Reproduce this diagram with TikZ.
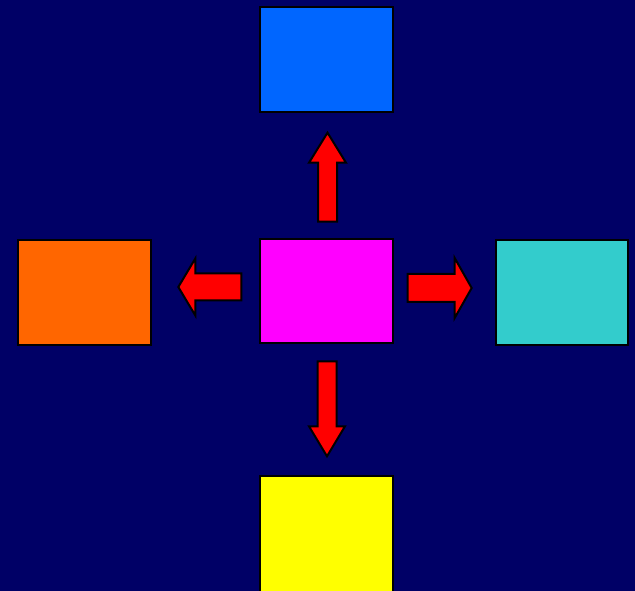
\documentclass[tikz,border=0pt]{standalone}
\definecolor{bgnavy}{HTML}{000066}
\definecolor{hubmagenta}{HTML}{FF00FF}
\definecolor{topblue}{HTML}{0066FF}
\definecolor{leftorange}{HTML}{FF6600}
\definecolor{rightcyan}{HTML}{33CCCC}
\definecolor{bottomyellow}{HTML}{FFFF00}
\definecolor{arrowred}{HTML}{FF0000}
\tikzset{
  box/.style={draw=black, line width=0.04cm, minimum width=2.66cm, minimum height=2.1cm, inner sep=0pt},
  arrowfill/.style={fill=arrowred, draw=black, line width=0.04cm, line join=miter},
  % length, shaft width, head width, head length
  pics/blockarrow/.style n args={4}{code={
    \draw[arrowfill] (0,-#2/2) -- ({#1-#4},-#2/2) -- ({#1-#4},-#3/2) -- (#1,0)
      -- ({#1-#4},#3/2) -- ({#1-#4},#2/2) -- (0,#2/2) -- cycle;
  }}
}
\begin{document}
\begin{tikzpicture}[x=0.02cm, y=0.02cm]
  % Background
  \useasboundingbox (0,0) rectangle (635,591);
  \clip (0,0) rectangle (635,591);
  \fill[bgnavy] (0,0) rectangle (635,591);

  % Boxes
  \node[box, fill=hubmagenta, minimum height=2.08cm] (hub) at (326.8,299.7) {};
  \node[box, fill=topblue] (top) at (326.5,531.5) {};
  \node[box, fill=leftorange] (left) at (84.3,298.7) {};
  \node[box, fill=rightcyan] (right) at (562,298.7) {};
  \node[box, fill=bottomyellow, minimum height=2.7cm] (bottom) at (326.5,47.5) {};

  % Arrows out of the hub
  \path (hub.north) ++(0.7,16.6) pic[rotate=90] {blockarrow={89}{19}{37}{30}};
  \path (hub.south) ++(0.2,-17) pic[rotate=-90] {blockarrow={95}{19}{36}{30}};
  \path (hub.west) ++(-18,4.3) pic[rotate=180] {blockarrow={63}{27}{57}{17}};
  \path (hub.east) ++(13.4,3.3) pic {blockarrow={64}{28}{60}{17}};
\end{tikzpicture}
\end{document}
